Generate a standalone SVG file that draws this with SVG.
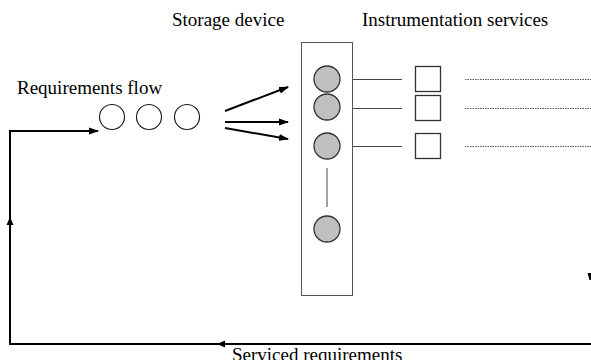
<svg xmlns="http://www.w3.org/2000/svg" width="591" height="360" viewBox="0 0 591 360">
<defs>
<marker id="ah" markerWidth="10" markerHeight="8" refX="9" refY="4" orient="auto" markerUnits="userSpaceOnUse"><path d="M0,0.5 L10,4 L0,7.5 Z" fill="#000"/></marker>
</defs>
<style>
text{font-family:"Liberation Serif","Times New Roman",serif;font-size:19px;fill:#000}
.q{fill:#fff;stroke:#222;stroke-width:1.2}
.g{fill:#c0c0c0;stroke:#333;stroke-width:1.3}
.sq{fill:#fff;stroke:#333;stroke-width:1.3}
.ln{stroke:#444;stroke-width:1;fill:none}
.dt{stroke:#555;stroke-width:1;stroke-dasharray:1.5 1;fill:none}
.th{stroke:#000;stroke-width:2;fill:none}
</style>
<rect width="591" height="360" fill="#fff"/>
<g id="labels">
<text x="172" y="26">Storage device</text>
<text x="362" y="26">Instrumentation services</text>
<text x="17" y="94">Requirements flow</text>
<text x="232" y="361">Serviced requirements</text>
</g>
<g id="requirements">
<circle class="q" cx="112" cy="117" r="12.5"/>
<circle class="q" cx="149" cy="117" r="12.5"/>
<circle class="q" cx="187" cy="117" r="12.5"/>
</g>
<g id="storage">
<rect x="301.5" y="42.5" width="51" height="253" fill="#fff" stroke="#555" stroke-width="1"/>
<circle class="g" cx="327" cy="79" r="13"/>
<circle class="g" cx="327" cy="107" r="13"/>
<circle class="g" cx="327" cy="146" r="13"/>
<circle class="g" cx="327" cy="229" r="13"/>
<line class="ln" x1="327" y1="168" x2="327" y2="207"/>
</g>
<g id="services">
<rect class="sq" x="415.5" y="66.5" width="25" height="25"/>
<rect class="sq" x="415.5" y="95.5" width="25" height="25"/>
<rect class="sq" x="415.5" y="133.5" width="25" height="25"/>
</g>
<g id="connectors">
<line class="ln" x1="353" y1="79.5" x2="402" y2="79.5"/>
<line class="ln" x1="353" y1="108.5" x2="402" y2="108.5"/>
<line class="ln" x1="353" y1="146.5" x2="402" y2="146.5"/>
<line class="dt" x1="465" y1="79.5" x2="591" y2="79.5"/>
<line class="dt" x1="465" y1="108.5" x2="591" y2="108.5"/>
<line class="dt" x1="465" y1="146.5" x2="591" y2="146.5"/>
<line class="th" x1="225" y1="111" x2="288" y2="87" marker-end="url(#ah)"/>
<line class="th" x1="225" y1="122" x2="288" y2="122" marker-end="url(#ah)"/>
<line class="th" x1="225" y1="128" x2="288" y2="139" marker-end="url(#ah)"/>
<path class="th" d="M591,344 L10,344 L10,131 L98,131" marker-end="url(#ah)"/>
<path d="M10,217 L13.5,225 L6.5,225 Z" fill="#000"/>
<path d="M217,344 L225,340.5 L225,347.5 Z" fill="#000"/>
<path d="M587.5,273 L591,273 L591,280 L589.5,280 Z" fill="#000"/>
</g>
</svg>
